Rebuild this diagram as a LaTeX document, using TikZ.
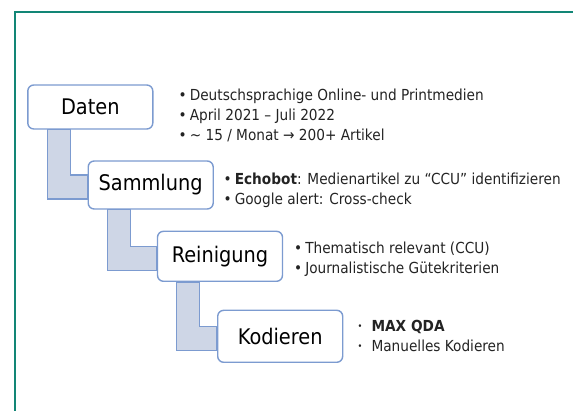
\documentclass[tikz,border=0pt]{standalone}
\usepackage{fontspec}
\setmainfont{DejaVu Sans Condensed}
\usepackage{xcolor}
\usetikzlibrary{positioning,calc,backgrounds}
\definecolor{rahmen}{RGB}{18,134,118}
\definecolor{kante}{RGB}{124,155,208}
\definecolor{band}{RGB}{206,214,230}
\definecolor{schrift}{RGB}{35,35,35}
\newcommand{\gpunkt}{\textbullet\hspace{3pt}}
\newcommand{\kpunkt}{\raisebox{1.5pt}{\scalebox{0.6}{\textbullet}}\hspace{9pt}}

\begin{document}
\begin{tikzpicture}[x=1pt,y=-1pt,
   stufe/.style={draw=kante,line width=1.4pt,fill=white,rounded corners=6pt,
     minimum width=125pt,inner sep=0pt,font=\fontsize{21.5}{24}\selectfont},
   liste/.style={anchor=west,align=left,text=schrift,inner sep=0pt,
     font=\fontsize{15.2}{20}\selectfont},
   verb/.style={fill=band,draw=kante,line width=1.2pt}]
 \useasboundingbox (0,0) rectangle (573,411);
 \draw[rahmen,line width=2.3pt] (576,11.7) -- (14.7,11.7) -- (14.7,414);

 \node[stufe,minimum height=44pt] (daten) at (90.3,107) {Daten};
 \node[stufe,minimum height=48pt] (samm) at (150.7,185) {Sammlung};
 \node[stufe,minimum height=50pt] (rein) at (220,256.3) {Reinigung};
 \node[stufe,minimum height=52pt] (kod) at (280.2,336.3) {Kodieren};

 \begin{scope}[on background layer]
 \foreach \von/\nach in {daten/samm,samm/rein,rein/kod}
  \draw[verb] ($(\von.south west)+(20,0)$) coordinate (a) -- ($(\von.south west)+(43,0)$)
     |- ($(\nach.west)+(0,-10)$) -- ($(\nach.west)+(0,14)$) -| (a) -- cycle;
 \end{scope}

 \node[liste] (tdaten) at (178.5,115.3) {\gpunkt Deutschsprachige Online- und Printmedien\\
   \gpunkt April 2021 – Juli 2022\\
   \gpunkt\textasciitilde{} 15 / Monat → 200+ Artikel};
 \node[liste] (tsamm) at (223.5,190) {\gpunkt\textbf{Echobot}: Medienartikel zu “CCU” identifizieren\\
   \gpunkt Google alert: Cross-check};
 \node[liste] (trein) at (294,259) {\gpunkt Thematisch relevant (CCU)\\
   \gpunkt Journalistische Gütekriterien};
 \node[liste] (tkod) at (357.5,335.7) {\kpunkt\textbf{MAX QDA}\\
   \kpunkt Manuelles Kodieren};
\end{tikzpicture}
\end{document}
